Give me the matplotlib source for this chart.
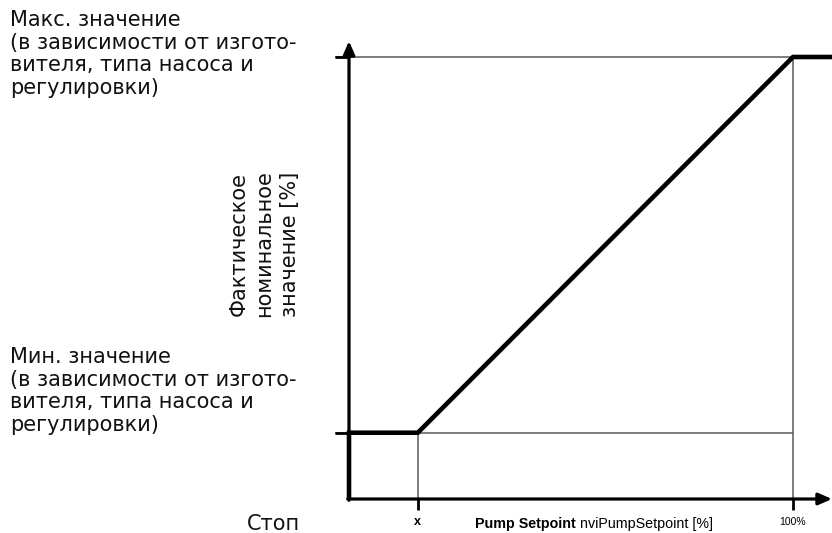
import matplotlib
matplotlib.use("Agg")
import matplotlib.pyplot as plt

# Data
setpoint_x = [0, 0, 15.5, 100, 109]      # Pump setpoint [%]
actual_y = [0, 15, 15, 100, 100]         # actual setpoint [%]
y_min_value = 15
y_max_value = 100
x_ticks = [15.5, 100]
x_tick_labels = ["x", "100%"]
min_label = "Мин. значение\n(в зависимости от изгото-\nвителя, типа насоса и\nрегулировки)"
max_label = "Макс. значение\n(в зависимости от изгото-\nвителя, типа насоса и\nрегулировки)"
y_label = "Фактическое\nноминальное\nзначение [%]"
stop_label = "Стоп"

W, H = 832, 533
fig = plt.figure(figsize=(W / 100, H / 100), dpi=100)
ax = fig.add_axes([0, 0, 1, 1])
sx = 4.44
sy = 4.42
ox, oy = 349, 499
ax.set_xlim(-ox / sx, (W - ox) / sx)
ax.set_ylim(-(H - oy) / sy, oy / sy)
ax.axis("off")

thin = dict(color="#5a5a5a", lw=1.1, solid_capstyle="butt")
# guide lines
ax.plot([-3.2, x_ticks[1]], [y_max_value, y_max_value], **thin)
ax.plot([-3.2, x_ticks[1]], [y_min_value, y_min_value], **thin)
ax.plot([x_ticks[0], x_ticks[0]], [y_min_value, 0], **thin)
ax.plot([x_ticks[1], x_ticks[1]], [y_max_value, 0], **thin)

# tick marks
for yv in (y_min_value, y_max_value):
    ax.plot([-3.2, 0], [yv, yv], color="black", lw=2.0, solid_capstyle="butt")
for xv in x_ticks:
    ax.plot([xv, xv], [0, -2.6], color="black", lw=2.0, solid_capstyle="butt")

# axes with arrows
ax.annotate("", xy=(0, 103.6), xytext=(0, -0.3),
            arrowprops=dict(arrowstyle="-|>,head_length=0.8,head_width=0.35",
                            lw=2.3, color="black", shrinkA=0, shrinkB=0))
ax.annotate("", xy=((W - ox) / sx, 0), xytext=(-0.3, 0),
            arrowprops=dict(arrowstyle="-|>,head_length=0.8,head_width=0.35",
                            lw=2.3, color="black", shrinkA=0, shrinkB=0))

# characteristic curve
ax.plot(setpoint_x, actual_y, color="black", lw=3.3, solid_joinstyle="miter",
        solid_capstyle="butt")

# text
fs = 15
tc = "#111111"
ax.text(10 / W, 1 - 10 / H, max_label, transform=fig.transFigure, fontsize=fs,
        family="DejaVu Sans", va="top", ha="left", linespacing=1.17, color=tc)
ax.text(10 / W, 1 - 347 / H, min_label, transform=fig.transFigure, fontsize=fs,
        family="DejaVu Sans", va="top", ha="left", linespacing=1.17, color=tc)
ax.text(264 / W, 1 - 244 / H, y_label, transform=fig.transFigure, fontsize=fs,
        family="DejaVu Sans", va="center", ha="center", rotation=90,
        multialignment="center", linespacing=1.35, color=tc)
ax.text(273 / W, 1 - 524 / H, stop_label, transform=fig.transFigure, fontsize=fs,
        family="DejaVu Sans", va="center", ha="center", color=tc)

for xv, lab in zip(x_ticks, x_tick_labels):
    ax.text(xv, -5.3, lab, fontsize=9 if lab == "x" else 7.5,
            family="Liberation Sans", ha="center", va="center",
            fontweight="bold" if lab == "x" else "normal")
t1 = ax.text(475 / W, 1 - 524 / H, "Pump Setpoint", transform=fig.transFigure,
             fontsize=10.3, family="Liberation Sans", fontweight="bold",
             va="center", ha="left")
ax.annotate(" nviPumpSetpoint [%]", xycoords=t1, xy=(1, 0.5), va="center",
            ha="left", fontsize=10.3, family="Liberation Sans")

fig.savefig("out.png", dpi=100)
